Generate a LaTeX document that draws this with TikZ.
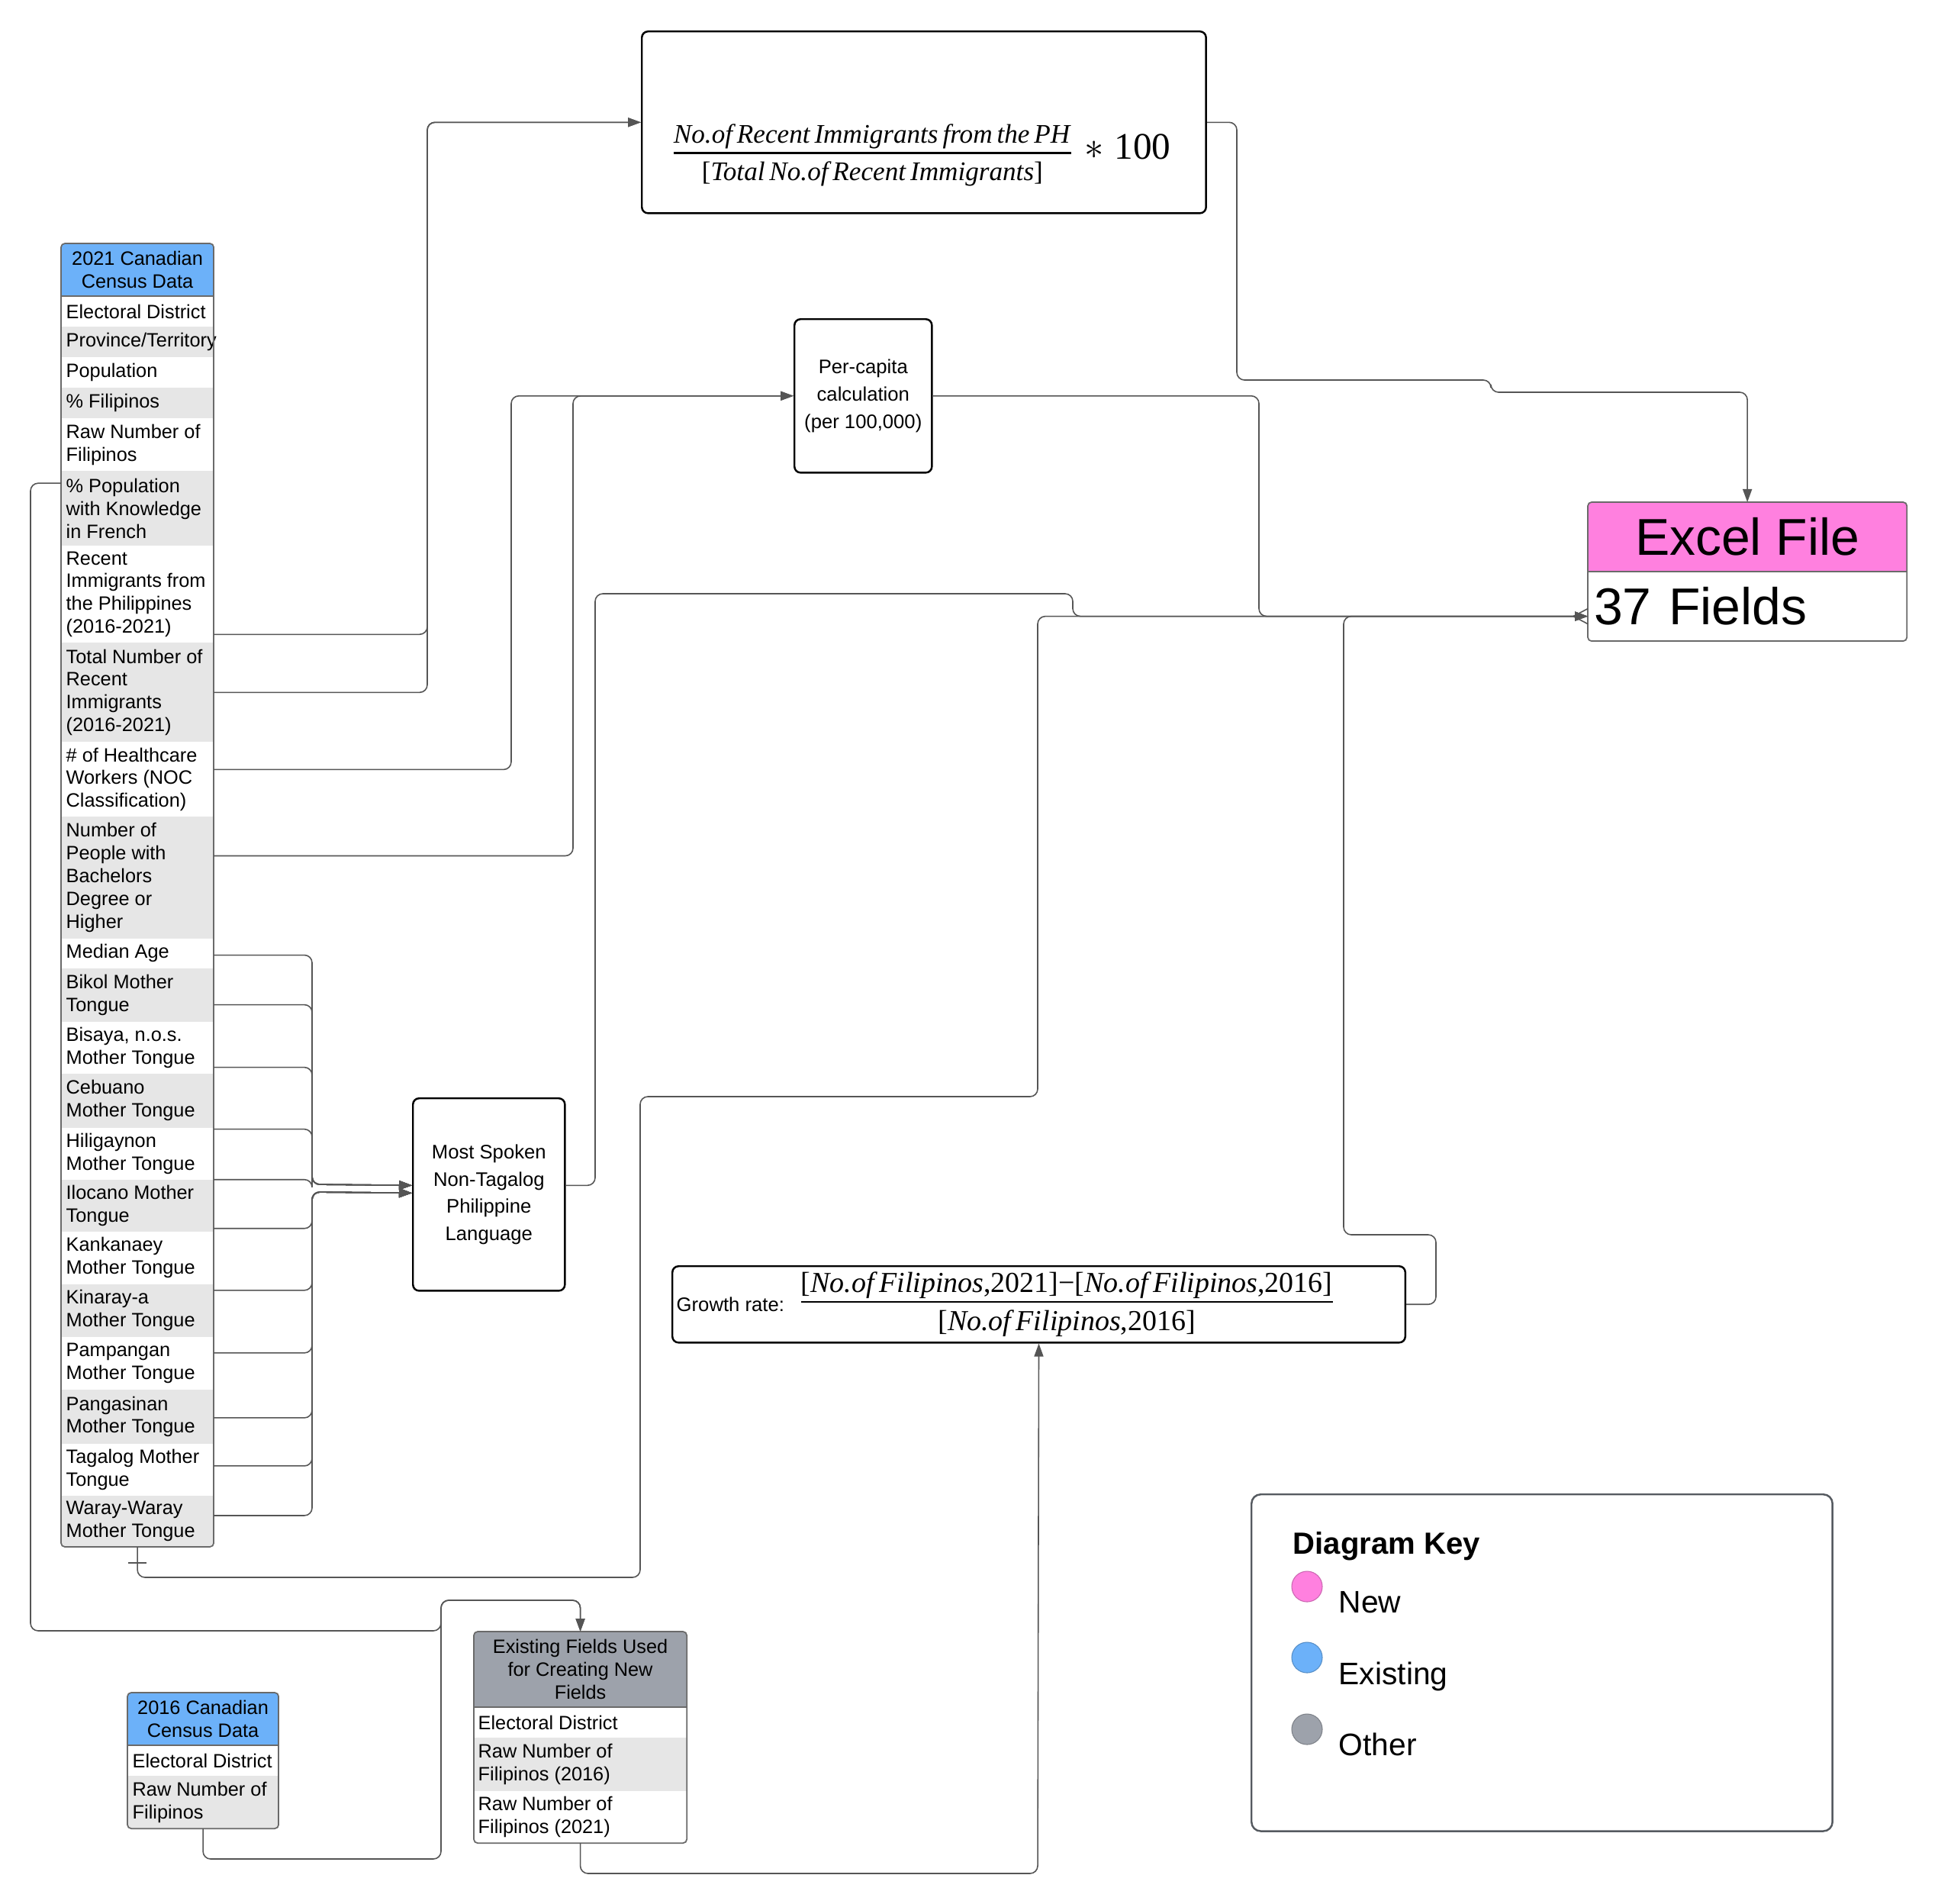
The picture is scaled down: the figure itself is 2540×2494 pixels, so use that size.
\documentclass[tikz,border=0pt]{standalone}
\usepackage{amsmath}
\usepackage[no-math]{fontspec}
\setmainfont{Liberation Sans}
\newfontfamily\tmsfnt{Liberation Serif}
\usetikzlibrary{arrows.meta}
\pgfdeclarelayer{bg}
\pgfsetlayers{bg,main}
\definecolor{hblue}{HTML}{6CB1F9}
\definecolor{hpink}{HTML}{FF80DF}
\definecolor{hgrey}{HTML}{9DA2AB}
\definecolor{rowgrey}{HTML}{E6E6E6}
\definecolor{tline}{HTML}{6A6A6A}
\definecolor{cline}{HTML}{555555}
\definecolor{keyline}{HTML}{555A60}
\hyphenpenalty=10000
\exhyphenpenalty=10000
\newcommand\tblfnt{\fontsize{7.2}{8.5}\selectfont}
\newcommand\boxfnt{\fontsize{7.3}{10.2}\selectfont}
\newcommand\fmi[1]{\textit{#1}}
\tikzset{
  rowbox/.style={anchor=north west, inner sep=0pt, outer sep=0pt},
  ra/.style={rowbox, minimum width=2.00cm, minimum height=#1},
  rb/.style={rowbox, minimum width=1.98cm, minimum height=#1},
  re/.style={rowbox, minimum width=2.79cm, minimum height=#1},
  rowtxt/.style={anchor=west, xshift=0.06cm, inner sep=0pt, align=left, font=\tblfnt},
  headtxt/.style={inner sep=0pt, align=center, font=\tblfnt},
  conn/.style={draw=cline, line width=0.45pt, rounded corners=0.1cm},
  arr/.style={-{Triangle[length=1.7mm,width=1.2mm]}},
  tbl/.style={draw=tline, line width=0.5pt, rounded corners=0.05cm},
  calcbox/.style={draw=black, line width=0.7pt, rounded corners=0.08cm, align=center, inner sep=0pt, anchor=north west},
  keytxt/.style={anchor=base west, inner sep=0pt, font=\fontsize{11.6}{13}\selectfont},
  keydot/.style={circle, minimum size=0.4cm, inner sep=0pt, line width=0.3pt},
}
\begin{document}
\begin{tikzpicture}[x=0.01cm, y=-0.01cm]
\useasboundingbox (0,0) rectangle (2540,2494);

% ---------- 2021 table (row boxes) ----------
\node[ra=0.69cm] (a0) at (80,319) {};
\node[ra=0.40cm] (a1) at (a0.south west) {};
\node[ra=0.40cm] (a2) at (a1.south west) {};
\node[ra=0.40cm] (a3) at (a2.south west) {};
\node[ra=0.40cm] (a4) at (a3.south west) {};
\node[ra=0.69cm] (a5) at (a4.south west) {};
\node[ra=0.98cm] (a6) at (a5.south west) {};
\node[ra=1.27cm] (a7) at (a6.south west) {};
\node[ra=1.30cm] (a8) at (a7.south west) {};
\node[ra=0.98cm] (a9) at (a8.south west) {};
\node[ra=1.59cm] (a10) at (a9.south west) {};
\node[ra=0.39cm] (a11) at (a10.south west) {};
\node[ra=0.70cm] (a12) at (a11.south west) {};
\node[ra=0.68cm] (a13) at (a12.south west) {};
\node[ra=0.71cm] (a14) at (a13.south west) {};
\node[ra=0.68cm] (a15) at (a14.south west) {};
\node[ra=0.68cm] (a16) at (a15.south west) {};
\node[ra=0.69cm] (a17) at (a16.south west) {};
\node[ra=0.69cm] (a18) at (a17.south west) {};
\node[ra=0.69cm] (a19) at (a18.south west) {};
\node[ra=0.71cm] (a20) at (a19.south west) {};
\node[ra=0.68cm] (a21) at (a20.south west) {};
\node[ra=0.67cm] (a22) at (a21.south west) {};

% ---------- 2016 table ----------
\node[rb=0.69cm] (b0) at (167,2218) {};
\node[rb=0.40cm] (b1) at (b0.south west) {};
\node[rb=0.69cm] (b2) at (b1.south west) {};

% ---------- Existing fields table ----------
\node[re=0.99cm] (e0) at (621,2138) {};
\node[re=0.40cm] (e1) at (e0.south west) {};
\node[re=0.70cm] (e2) at (e1.south west) {};
\node[re=0.68cm] (e3) at (e2.south west) {};

% ---------- Excel file ----------
\node[anchor=north west, inner sep=0pt, outer sep=0pt, minimum width=4.18cm, minimum height=0.91cm, font=\fontsize{19.3}{22}\selectfont] (exh) at (2081,658) {Excel File};
\node[anchor=north west, inner xsep=0.08cm, inner ysep=0pt, outer sep=0pt, text width=4.02cm, align=left, minimum height=0.91cm, font=\fontsize{19.3}{22}\selectfont] (exb) at (exh.south west) {37 Fields};
\coordinate (exin) at ([yshift=-1.3mm]exb.west);

% ---------- backgrounds ----------
\begin{pgfonlayer}{bg}
\fill[white] (0,0) rectangle (2540,2494);
\begin{scope}
\clip[rounded corners=0.05cm] (a0.north west) rectangle (a22.south east);
\fill[hblue] (a0.north west) rectangle (a0.south east);
\foreach \r in {a2,a4,a6,a8,a10,a12,a14,a16,a18,a20,a22}
  \fill[rowgrey] (\r.north west) rectangle (\r.south east);
\end{scope}
\begin{scope}
\clip[rounded corners=0.05cm] (b0.north west) rectangle (b2.south east);
\fill[hblue] (b0.north west) rectangle (b0.south east);
\fill[rowgrey] (b2.north west) rectangle (b2.south east);
\end{scope}
\begin{scope}
\clip[rounded corners=0.05cm] (e0.north west) rectangle (e3.south east);
\fill[hgrey] (e0.north west) rectangle (e0.south east);
\fill[rowgrey] (e2.north west) rectangle (e2.south east);
\end{scope}
\begin{scope}
\clip[rounded corners=0.05cm] (exh.north west) rectangle (exb.south east);
\fill[hpink] (exh.north west) rectangle (exh.south east);
\end{scope}
\end{pgfonlayer}

% ---------- table texts ----------
\node[headtxt] (a0t) at (a0.center) {2021 Canadian\\Census Data};
\node[rowtxt] (a1t) at (a1.west) {Electoral District};
\node[rowtxt] (a2t) at (a2.west) {Province/Territory};
\node[rowtxt] (a3t) at (a3.west) {Population};
\node[rowtxt] (a4t) at (a4.west) {\% Filipinos};
\node[rowtxt] (a5t) at (a5.west) {Raw Number of\\Filipinos};
\node[rowtxt] (a6t) at (a6.west) {\% Population\\with Knowledge\\in French};
\node[rowtxt] (a7t) at (a7.west) {Recent\\Immigrants from\\the Philippines\\(2016-2021)};
\node[rowtxt] (a8t) at (a8.west) {Total Number of\\Recent\\Immigrants\\(2016-2021)};
\node[rowtxt] (a9t) at (a9.west) {\# of Healthcare\\Workers (NOC\\Classification)};
\node[rowtxt] (a10t) at (a10.west) {Number of\\People with\\Bachelors\\Degree or\\Higher};
\node[rowtxt] (a11t) at (a11.west) {Median Age};
\node[rowtxt] (a12t) at (a12.west) {Bikol Mother\\Tongue};
\node[rowtxt] (a13t) at (a13.west) {Bisaya, n.o.s.\\Mother Tongue};
\node[rowtxt] (a14t) at (a14.west) {Cebuano\\Mother Tongue};
\node[rowtxt] (a15t) at (a15.west) {Hiligaynon\\Mother Tongue};
\node[rowtxt] (a16t) at (a16.west) {Ilocano Mother\\Tongue};
\node[rowtxt] (a17t) at (a17.west) {Kankanaey\\Mother Tongue};
\node[rowtxt] (a18t) at (a18.west) {Kinaray-a\\Mother Tongue};
\node[rowtxt] (a19t) at (a19.west) {Pampangan\\Mother Tongue};
\node[rowtxt] (a20t) at (a20.west) {Pangasinan\\Mother Tongue};
\node[rowtxt] (a21t) at (a21.west) {Tagalog Mother\\Tongue};
\node[rowtxt] (a22t) at (a22.west) {Waray-Waray\\Mother Tongue};

\node[headtxt] (b0t) at (b0.center) {2016 Canadian\\Census Data};
\node[rowtxt] (b1t) at (b1.west) {Electoral District};
\node[rowtxt] (b2t) at (b2.west) {Raw Number of\\Filipinos};

\node[headtxt] (e0t) at (e0.center) {Existing Fields Used\\for Creating New\\Fields};
\node[rowtxt, xshift=-0.01cm] (e1t) at (e1.west) {Electoral District};
\node[rowtxt, xshift=-0.01cm] (e2t) at (e2.west) {Raw Number of\\Filipinos (2016)};
\node[rowtxt, xshift=-0.01cm] (e3t) at (e3.west) {Raw Number of\\Filipinos (2021)};

% table outlines
\draw[tbl] (a0.north west) rectangle (a22.south east);
\draw[tline, line width=0.6pt] (a0.south west) -- (a0.south east);
\draw[tbl] (b0.north west) rectangle (b2.south east);
\draw[tline, line width=0.6pt] (b0.south west) -- (b0.south east);
\draw[tbl] (e0.north west) rectangle (e3.south east);
\draw[tline, line width=0.6pt] (e0.south west) -- (e0.south east);
\draw[tbl] (exh.north west) rectangle (exb.south east);
\draw[tline, line width=0.6pt] (exh.south west) -- (exh.south east);

% ---------- calculation boxes ----------
\node[calcbox, minimum width=7.39cm, minimum height=2.38cm] (fbox) at (840,40) {};
\node[inner sep=0pt, anchor=west] (fml) at (878,203) {\fontsize{10}{12}\selectfont\tmsfnt
  $\genfrac{}{}{0.8pt}{1}{\hbox{\fmi{No.of\,Recent\,Immigrants\,from\,the\,PH}}\rule[-2.5pt]{0pt}{1pt}}{\rule{0pt}{9pt}\hbox{[\fmi{Total\,No.of\,Recent\,Immigrants}]}}$%
  {\fontsize{14}{15}\selectfont\;$\ast$\;100}};

\node[calcbox, minimum width=1.80cm, minimum height=2.01cm, font=\boxfnt] (pc) at (1040,417) {Per-capita\\calculation\\(per 100,000)};

\node[calcbox, minimum width=1.99cm, minimum height=2.52cm, font=\boxfnt] (most) at (540,1438) {Most Spoken\\Non-Tagalog\\Philippine\\Language};
\coordinate (mtU) at ([yshift=1.2mm]most.west);
\coordinate (mtL) at ([yshift=0.2mm]most.west);

\node[calcbox, minimum width=9.60cm, minimum height=1.00cm] (gr) at (880,1658) {};
\node[anchor=west, inner sep=0pt, font=\boxfnt] (grlab) at (886,1709) {Growth rate:};
\node[anchor=west, inner sep=0pt] (grfrac) at (1045,1709) {\fontsize{10.8}{12}\selectfont\tmsfnt
  $\genfrac{}{}{0.8pt}{1}{\hbox{[\fmi{No.of\,Filipinos},2021]−[\fmi{No.of\,Filipinos},2016]}\rule[-2.5pt]{0pt}{1pt}}{\rule{0pt}{9.5pt}\hbox{[\fmi{No.of\,Filipinos},2016]}}$};

% ---------- diagram key ----------
\node[draw=keyline, line width=0.7pt, rounded corners=0.12cm, minimum width=7.61cm, minimum height=4.41cm, anchor=north west] (key) at (1639,1957) {};
\node[anchor=base west, inner sep=0pt, font=\bfseries\fontsize{11.4}{13}\selectfont] (keyt) at (1694,2036) {Diagram Key};
\node[keydot, fill=hpink, draw=hpink!80!black] (k1) at (1713,2079) {};
\node[keydot, fill=hblue, draw=hblue!80!black] (k2) at (1713,2172) {};
\node[keydot, fill=hgrey, draw=hgrey!80!black] (k3) at (1713,2266) {};
\node[keytxt] (k1t) at (1754,2113) {New};
\node[keytxt] (k2t) at (1754,2207) {Existing};
\node[keytxt] (k3t) at (1754,2300) {Other};

% ---------- connectors ----------
\draw[conn, arr] ([yshift=-5.25mm]a7.east) -| (560,500) |- (fbox.west);
\draw[conn, arr] (a8.east) -| (560,500) |- (fbox.west);
\draw[conn, arr] ([yshift=1.3mm]a9.east) -| (670,800) |- (pc.west);
\draw[conn, arr] ([yshift=2.85mm]a10.east) -| (751,800) |- (pc.west);

\draw[conn, arr] (fbox.east) -| (1621,300) |- (1954,498) |- (2100,514) -| (exh.north);
\draw[conn, arr] (pc.east) -| (1650,700) |- (exin);
\draw[conn, arr] ([yshift=1.2mm]most.east) -| (780,1000) |- (1406,778) |- (exin);
\draw[conn, arr] (a22.south) |- (839,2067) |- (1360,1437) |- (exin);
\draw[cline, line width=0.45pt] ([xshift=-1.2mm,yshift=-2.1mm]a22.south) -- ([xshift=1.2mm,yshift=-2.1mm]a22.south);
\draw[conn, arr] (gr.east) -| (1882,1660) |- (1761,1618) |- (exin);
\draw[cline, line width=0.45pt] ([xshift=-1.9mm]exin) -- ([yshift=1mm]exin);
\draw[cline, line width=0.45pt] ([xshift=-1.9mm]exin) -- ([yshift=-1mm]exin);

\draw[conn, arr] ([yshift=3.3mm]a6.west) -| (40,1500) |- (578,2137) |- (700,2097) -| (e0.north);
\draw[conn, arr] (b2.south) |- (578,2436) |- (700,2097) -| (e0.north);
\draw[conn, arr] (e3.south) |- (1360,2455) -- (gr.south);

% mother tongue bundle
\draw[conn, arr] ([yshift=-0.25mm]a11.east) -| (409,1552) -- (mtU);
\draw[conn, arr] ([yshift=-1.3mm]a12.east) -| (409,1552) -- (mtU);
\draw[conn, arr] ([yshift=-2.6mm]a13.east) -| (409,1552) -- (mtU);
\draw[conn, arr] ([yshift=-3.75mm]a14.east) -| (409,1552) -- (mtU);
\draw[conn, arr] ([yshift=-3.4mm]a15.east) -| (409,1552) -- (mtU);
\draw[conn, arr] ([yshift=-3.0mm]a16.east) -| (409,1562) -- (mtL);
\draw[conn, arr] ([yshift=-4.25mm]a17.east) -| (409,1562) -- (mtL);
\draw[conn, arr] ([yshift=-5.55mm]a18.east) -| (409,1562) -- (mtL);
\draw[conn, arr] ([yshift=-7.15mm]a19.east) -| (409,1562) -- (mtL);
\draw[conn, arr] ([yshift=-6.45mm]a20.east) -| (409,1562) -- (mtL);
\draw[conn, arr] ([yshift=0.75mm]a22.east) -| (409,1562) -- (mtL);
\end{tikzpicture}
\end{document}
